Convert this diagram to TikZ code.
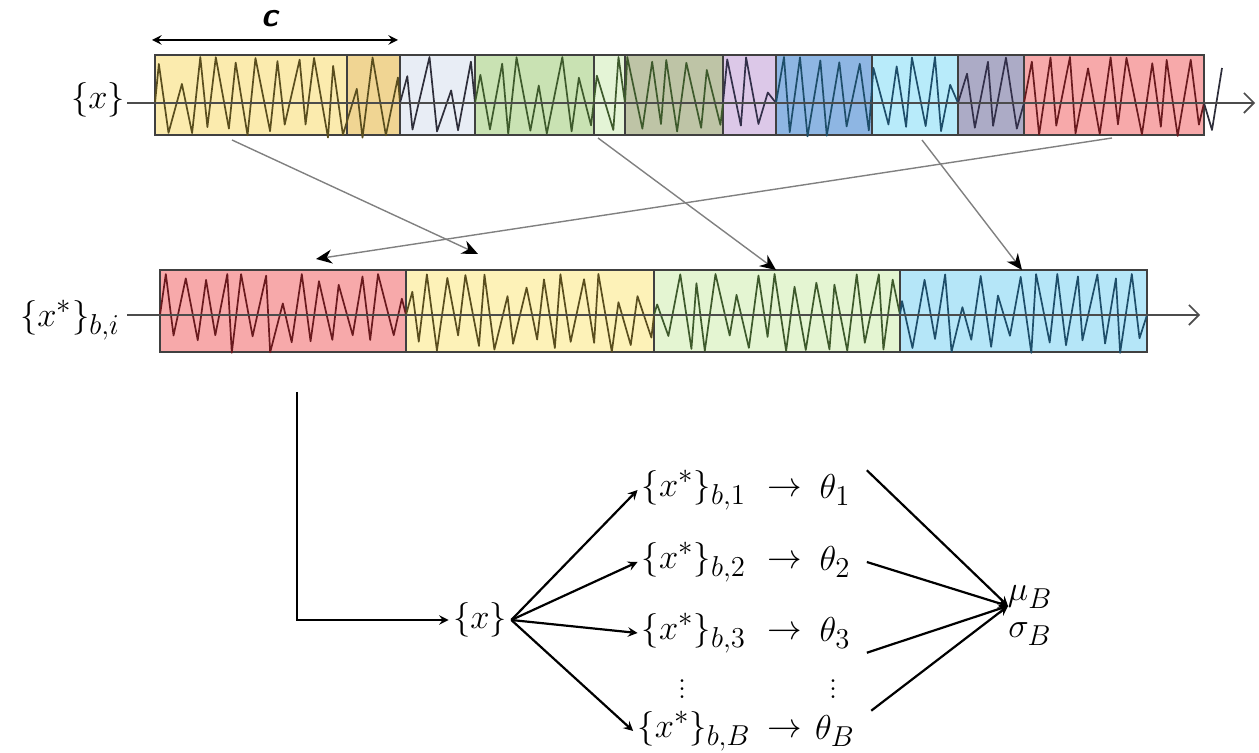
\documentclass[tikz,border=0pt]{standalone}
\usepackage{amsmath}
\usepackage{tikz}
\usetikzlibrary{positioning,arrows.meta}
\tikzstyle{arrow} = [line width=1.1pt,->,>=stealth]
% segment fills
\definecolor{yelA}{HTML}{FBEBAE}
\definecolor{yelB}{HTML}{F0D593}
\definecolor{greyA}{HTML}{E8EDF5}
\definecolor{grnA}{HTML}{C9E2B3}
\definecolor{grnB}{HTML}{E4F4D6}
\definecolor{oliA}{HTML}{BEC4A6}
\definecolor{purA}{HTML}{DCC8E8}
\definecolor{bluA}{HTML}{8EB6E3}
\definecolor{cyaA}{HTML}{B8EBFA}
\definecolor{purB}{HTML}{ACABC6}
\definecolor{redA}{HTML}{F7A9AA}
\definecolor{yelC}{HTML}{FDF2B8}
\definecolor{grnC}{HTML}{E4F5D2}
\definecolor{cyaC}{HTML}{B5E6F8}
% wave lines
\definecolor{yelL}{HTML}{5A4E1E}
\definecolor{greyL}{HTML}{2E2E3A}
\definecolor{grnL}{HTML}{3E5A2C}
\definecolor{purL}{HTML}{33304A}
\definecolor{bluL}{HTML}{1E4E6A}
\definecolor{redL}{HTML}{6A1A1E}

\begin{document}
\begin{tikzpicture} [
    x=0.5pt,y=-0.5pt,
    seg/.style={draw=black!75,line width=0.8pt},
    wave/.style={line width=0.85pt,line join=round},
    lbl/.style={inner sep=2pt,font=\fontsize{19}{22}\selectfont},
    est/.style={lbl,inner xsep=8pt},
    dots/.style={inner sep=0pt,font=\fontsize{17}{20}\selectfont},
    axis/.style={draw=black!70,line width=0.8pt,-{Straight Barb[length=5pt,width=10pt]}},
    garrow/.style={draw=black!50,line width=0.7pt,-{Stealth[black,length=8pt,width=7pt]}},
    ]
    \useasboundingbox (0,0) rectangle (1259,753);
    \pgfmathsetseed{11}

    % original series
    \foreach \xa/\xb/\fc in {155/347/yelA,347/400/yelB,400/475/greyA,475/594/grnA,594/625/grnB,
        625/723/oliA,723/776/purA,776/872/bluA,872/958/cyaA,958/1024/purB,1024/1204/redA}
      \path[seg,fill=\fc] (\xa,55) rectangle (\xb,135);
    \foreach \xa/\xb/\lc in {155/400/yelL,400/475/greyL,475/625/grnL,625/723/grnL,723/776/purL,
        776/958/bluL,958/1024/purL,1024/1204/redL} {
      \pgfmathtruncatemacro\nn{(\xb-\xa)/9.5}
      \draw[wave,\lc] (\xa,103) \foreach \k in {1,...,\nn} {
        -- ({\xa+(\k-0.5+0.35*rand)*(\xb-\xa)/\nn},{ifthenelse(mod(\k,2)==0,124+14*rnd,57+36*pow(rnd,3))})}
        -- (\xb,103);
    }
    \draw[wave,greyL] (1204,103) -- (1212,130) -- (1222,68);
    \coordinate (a0) at (127,103);
    \coordinate (a1) at (1255,103);
    \draw[axis] (a0) -- (a1);
    \node[lbl] (X0) at (98,100) {$\{x\}$};

    % block length
    \coordinate (c0) at (152,40);
    \coordinate (c1) at (398,40);
    \draw[arrow,<->] (c0) -- (c1);
    \node (C) at (270,19) {\fontsize{17}{20}\selectfont\sffamily\bfseries\itshape c};

    % bootstrap series
    \foreach \xa/\xb/\fc in {160/406/redA,406/654/yelC,654/900/grnC,900/1147/cyaC}
      \path[seg,fill=\fc] (\xa,270) rectangle (\xb,352);
    \foreach \xa/\xb/\lc in {160/406/redL,406/654/yelL,654/900/grnL,900/1147/bluL} {
      \pgfmathtruncatemacro\nn{(\xb-\xa)/9.5}
      \draw[wave,\lc] (\xa,315) \foreach \k in {1,...,\nn} {
        -- ({\xa+(\k-0.5+0.35*rand)*(\xb-\xa)/\nn},{ifthenelse(mod(\k,2)==0,335+18*rnd,274+36*pow(rnd,3))})}
        -- (\xb,315);
    }
    \coordinate (b0) at (127,315);
    \coordinate (b1) at (1200,315);
    \draw[axis] (b0) -- (b1);
    \node[lbl] (XB) at (70,320) {$\{x^*\}_{b,i}$};

    % resampled blocks
    \coordinate (p1) at (232,140);  \coordinate (q1) at (478,254);
    \coordinate (p2) at (1112,138); \coordinate (q2) at (316,259);
    \coordinate (p3) at (598,138);  \coordinate (q3) at (776,270);
    \coordinate (p4) at (922,140);  \coordinate (q4) at (1022,270);
    \foreach \i in {1,...,4}
      \draw[garrow] (p\i) -- (q\i);

    % estimates
    \node[lbl] (X) at (480,620) {$\{x\}$};
    \coordinate (L0) at (297,392);
    \draw[arrow] (L0) |- (X.west);
    \foreach \i/\y in {1/490,2/562,3/633,B/731} {
      \node[lbl] (S\i) at (694,\y) {$\{x^*\}_{b,\i}$};
      \path (S\i) ++(91,0) node[lbl] (R\i) {$\to$};
      \path (S\i) ++(141,0) node[est] (TH\i) {$\theta_\i$};
      \draw[arrow] (X.east) -- (S\i.west);
    }
    \path (S3) ++(-12,50) node[dots] (D1) {$\vdots$};
    \path (TH3) ++(-2,50) node[dots] (D2) {$\vdots$};
    \coordinate (hub) at (1008,606);
    \node[lbl] (MU) at (1030,597) {$\mu_B$};
    \node[lbl] (SG) at (1030,634) {$\sigma_B$};
    \draw[arrow] (TH1.north east) -- (hub);
    \draw[arrow] (TH2.east) -- (hub);
    \draw[arrow] (TH3.south east) -- (hub);
    \draw[arrow] (THB.north east) -- (hub);
    \end{tikzpicture}
\end{document}
